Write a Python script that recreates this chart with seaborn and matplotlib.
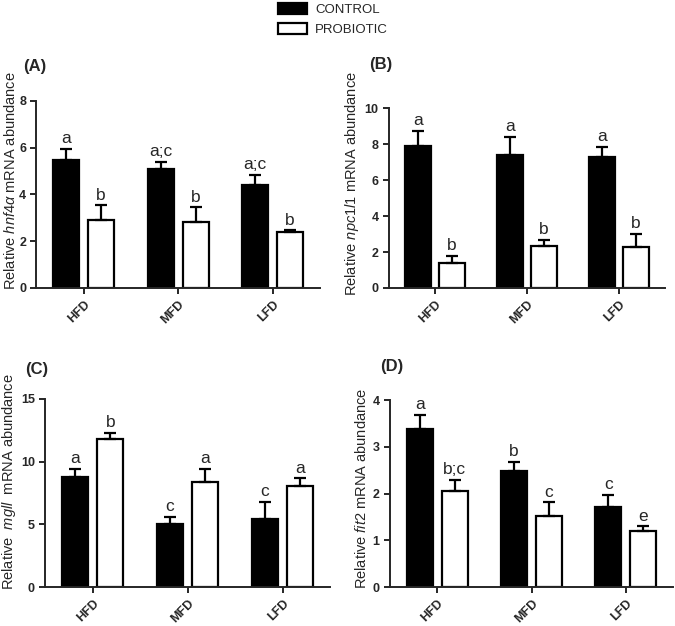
import matplotlib
matplotlib.use("Agg")
import matplotlib.pyplot as plt
import numpy as np
import pandas as pd
import seaborn as sns
from matplotlib.patches import Patch

# values (mean and upper error bar length)
diets = ["HFD", "MFD", "LFD"]
groups = ["CONTROL", "PROBIOTIC"]

hnf4a_ctrl = [5.48, 5.08, 4.40]
hnf4a_ctrl_err = [0.46, 0.32, 0.44]
hnf4a_prob = [2.92, 2.82, 2.38]
hnf4a_prob_err = [0.61, 0.62, 0.08]

npc1l1_ctrl = [7.92, 7.38, 7.29]
npc1l1_ctrl_err = [0.84, 1.03, 0.55]
npc1l1_prob = [1.38, 2.36, 2.29]
npc1l1_prob_err = [0.41, 0.30, 0.72]

mgll_ctrl = [8.74, 5.01, 5.41]
mgll_ctrl_err = [0.69, 0.61, 1.38]
mgll_prob = [11.80, 8.39, 8.02]
mgll_prob_err = [0.48, 1.04, 0.64]

fit2_ctrl = [3.38, 2.48, 1.71]
fit2_ctrl_err = [0.31, 0.19, 0.27]
fit2_prob = [2.05, 1.52, 1.21]
fit2_prob_err = [0.24, 0.29, 0.09]

# significance letters
hnf4a_letters = [["a", "a;c", "a;c"], ["b", "b", "b"]]
npc1l1_letters = [["a", "a", "a"], ["b", "b", "b"]]
mgll_letters = [["a", "c", "c"], ["b", "a", "a"]]
fit2_letters = [["a", "b", "c"], ["b;c", "c", "e"]]

sns.set_style("ticks")
plt.rcParams["font.family"] = ["Liberation Sans", "DejaVu Sans"]
plt.rcParams["mathtext.fontset"] = "custom"
plt.rcParams["mathtext.rm"] = "Liberation Sans"
plt.rcParams["mathtext.it"] = "Liberation Sans:italic"

W, H = 675, 626
fig = plt.figure(figsize=(W / 100, H / 100), dpi=100)

# axes rect, panel tag position (px), y label anchor (px)
panels = [
    ("(A)", [0.054, 0.540, 0.420, 0.299], (23, 66), (18, 181),
     hnf4a_ctrl, hnf4a_ctrl_err, hnf4a_prob, hnf4a_prob_err,
     hnf4a_letters, r"Relative $\mathit{hnf4\alpha}$ mRNA abundance", [0, 2, 4, 6, 8]),
    ("(B)", [0.576, 0.540, 0.409, 0.287], (369, 65), (361, 184),
     npc1l1_ctrl, npc1l1_ctrl_err, npc1l1_prob, npc1l1_prob_err,
     npc1l1_letters, r"Relative $\mathit{npc1l1}$ mRNA abundance", [0, 2, 4, 6, 8, 10]),
    ("(C)", [0.067, 0.062, 0.422, 0.301], (25, 369), (18, 482),
     mgll_ctrl, mgll_ctrl_err, mgll_prob, mgll_prob_err,
     mgll_letters, r"Relative  $\mathit{mgll}$  mRNA abundance", [0, 5, 10, 15]),
    ("(D)", [0.578, 0.062, 0.419, 0.299], (380, 366), (369, 488),
     fit2_ctrl, fit2_ctrl_err, fit2_prob, fit2_prob_err,
     fit2_letters, r"Relative $\mathit{fit2}$ mRNA abundance", [0, 1, 2, 3, 4]),
]

for tag, rect, tagpos, labpos, ctrl, ctrl_err, prob, prob_err, letters, ylabel, yticks in panels:
    ax = fig.add_axes(rect)
    df = pd.DataFrame({
        "diet": diets * 2,
        "group": [groups[0]] * 3 + [groups[1]] * 3,
        "value": ctrl + prob,
    })
    sns.barplot(data=df, x="diet", y="value", hue="group", order=diets, hue_order=groups,
                palette={"CONTROL": "black", "PROBIOTIC": "white"}, edgecolor="black",
                linewidth=1.6, width=0.74, gap=0.25, errorbar=None, legend=False,
                saturation=1, ax=ax)
    errs = [ctrl_err, prob_err]
    bar_conts = list(ax.containers)
    for gi, cont in enumerate(bar_conts):
        for bi, bar in enumerate(cont.patches):
            xc = bar.get_x() + bar.get_width() / 2
            h = bar.get_height()
            e = errs[gi][bi]
            ax.errorbar(xc, h, yerr=[[0], [e]], fmt="none", ecolor="black",
                        elinewidth=1.6, capsize=4, capthick=1.6, zorder=1)
            ax.annotate(letters[gi][bi], (xc, h + e), xytext=(0, 2), textcoords="offset points",
                        ha="center", va="bottom", fontsize=12.5)
    ax.set_xlim(-0.5, 2.5)
    ax.set_ylim(0, yticks[-1])
    ax.set_yticks(yticks)
    ax.set_xlabel("")
    ax.set_ylabel(ylabel, fontsize=10.5)
    ax.yaxis.set_label_coords(labpos[0] / W, 1 - labpos[1] / H, transform=fig.transFigure)
    ax.tick_params(axis="both", labelsize=9, width=1.4, length=4, direction="out")
    for lab in ax.get_xticklabels():
        lab.set_rotation(45)
        lab.set_ha("right")
        lab.set_rotation_mode("anchor")
        lab.set_fontweight("bold")
    for lab in ax.get_yticklabels():
        lab.set_fontweight("bold")
    sns.despine(ax=ax)
    for sp in ["left", "bottom"]:
        ax.spines[sp].set_linewidth(1.4)
    fig.text(tagpos[0] / W, 1 - tagpos[1] / H, tag, fontsize=12, fontweight="bold",
             ha="left", va="center")

handles = [Patch(facecolor="black", edgecolor="black", linewidth=1.6, label="CONTROL"),
           Patch(facecolor="white", edgecolor="black", linewidth=1.6, label="PROBIOTIC")]
fig.legend(handles=handles, loc="upper left", bbox_to_anchor=(278 / W, 1 - 3 / H), frameon=False,
           fontsize=9.5, handlelength=2.2, handleheight=0.85, labelspacing=0.55,
           handletextpad=0.6, borderpad=0, borderaxespad=0)

fig.savefig("out.png", dpi=100)
